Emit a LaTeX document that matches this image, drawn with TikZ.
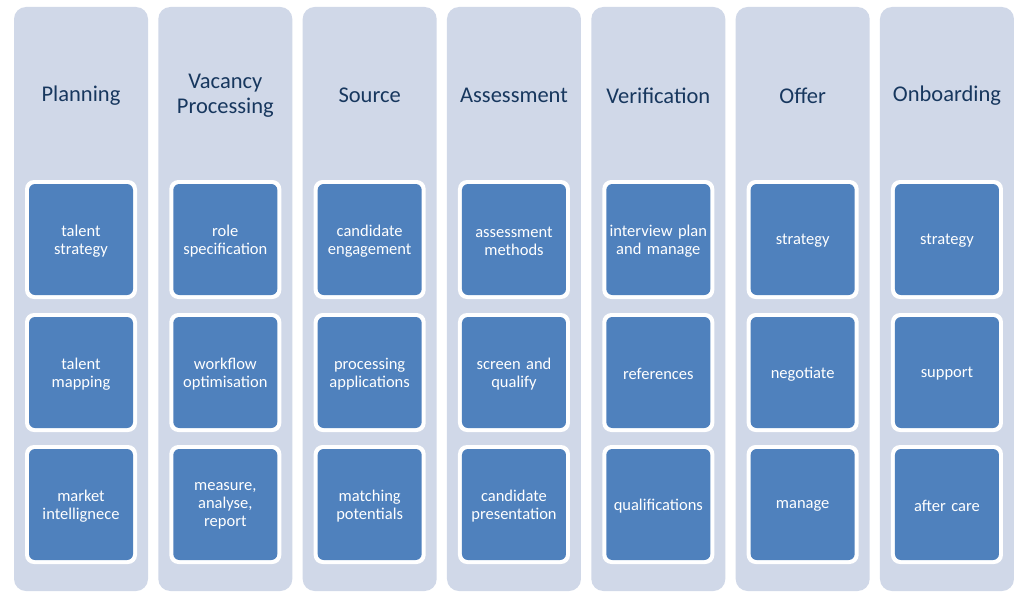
\documentclass[tikz,border=0pt]{standalone}
\usepackage{fontspec}
\setmainfont{Carlito}
\definecolor{colbg}{HTML}{D0D8E8}
\definecolor{boxblue}{HTML}{4F81BD}
\definecolor{titlecol}{HTML}{17375E}
\begin{document}
\begin{tikzpicture}[x=1pt,y=-1pt,
  column/.style={fill=colbg, draw=none, rounded corners=12pt, minimum width=134pt, minimum height=584pt, inner sep=0pt},
  outerbox/.style={fill=white, draw=none, rounded corners=9pt, minimum width=112pt, minimum height=119pt, inner sep=0pt},
  itembox/.style={fill=boxblue, draw=none, rounded corners=6pt, minimum width=104pt, minimum height=111pt, inner sep=0pt},
  itemtext/.style={text=white, align=center, font=\fontsize{16.5}{18}\selectfont, text width=104pt, inner sep=0pt},
  title/.style={text=titlecol, align=center, font=\fontsize{22.5}{25}\selectfont}
]
\useasboundingbox (0,0) rectangle (1024,602);
\fill[white] (0,0) rectangle (1024,602);
\def\pitch{144.33}
\foreach \i/\t/\a/\b/\c in {
  0/Planning/{talent\\strategy}/{talent\\mapping}/{market\\intellignece},
  1/{Vacancy\\Processing}/{role\\specification}/{workflow\\optimisation}/{measure,\\analyse,\\report},
  2/Source/{candidate\\engagement}/{processing\\applications}/{matching\\potentials},
  3/Assessment/{assessment\\methods}/{screen and\\qualify}/{candidate\\presentation},
  4/Verification/{interview plan\\and manage}/references/qualifications,
  5/Offer/strategy/negotiate/manage,
  6/Onboarding/strategy/support/{after care}}{
  \pgfmathsetmacro\cx{81+\i*\pitch}
  \node[column] (col\i) at (\cx,299) {};
  \node[title] (t\i) at (\cx,95.5) {\t};
  \node[outerbox] (oa\i) at (\cx,239.5) {};
  \node[itembox] (a\i) at (\cx,239.5) {};
  \node[itemtext] (ta\i) at (\cx,241) {\a};
  \node[outerbox] (ob\i) at (\cx,372.5) {};
  \node[itembox] (b\i) at (\cx,372.5) {};
  \node[itemtext] (tb\i) at (\cx,374) {\b};
  \node[outerbox] (oc\i) at (\cx,504.5) {};
  \node[itembox] (c\i) at (\cx,504.5) {};
  \node[itemtext] (tc\i) at (\cx,506) {\c};
}
\end{tikzpicture}
\end{document}
